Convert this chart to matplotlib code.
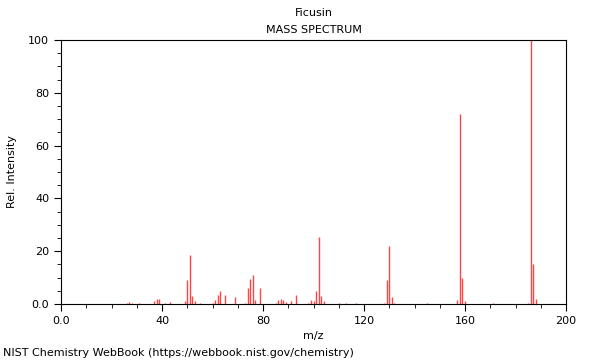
import matplotlib
matplotlib.use("Agg")
import matplotlib.pyplot as plt
from matplotlib.ticker import MultipleLocator, FixedLocator

mz = [26, 27, 28, 31, 37, 38, 39, 41, 43, 49, 50, 51, 52, 53, 55,
      60, 61, 62, 63, 65, 69, 73, 74, 75, 76, 77, 79,
      85, 86, 87, 88, 89, 91, 93, 98, 99, 100, 101, 102, 103, 104,
      110, 113, 117, 128, 129, 130, 131, 132, 145,
      157, 158, 159, 160, 171, 185, 186, 187, 188]
intensity = [0.5, 0.6, 0.5, 0.3, 1.0, 2.0, 1.8, 0.5, 0.8, 1.0, 9.0, 18.5, 3.0, 1.0, 0.4,
             0.3, 1.5, 3.5, 5.0, 3.5, 2.5, 0.5, 6.0, 9.5, 11.0, 1.5, 6.0,
             0.5, 1.5, 2.0, 1.5, 0.8, 1.0, 3.5, 0.5, 1.5, 1.0, 5.0, 25.5, 3.0, 1.0,
             0.3, 0.4, 0.3, 0.5, 9.0, 22.0, 2.5, 0.5, 0.3,
             1.5, 72.0, 10.0, 1.0, 0.3, 0.5, 100.0, 15.0, 2.0]

x_ticks = [0, 40, 80, 120, 160, 200]
x_labels = ["0.0", "40", "80", "120", "160", "200"]
y_ticks = [0, 20, 40, 60, 80, 100]
y_labels = ["0.0", "20", "40", "60", "80", "100"]

fig = plt.figure(figsize=(6, 3.6), dpi=100)
ax = fig.add_axes([61/600, 1-304/360, (566-61)/600, (304-40)/360])
ax.vlines(mz, 0, intensity, colors="#ff4444", linewidth=1.0)
ax.set_xlim(0, 200)
ax.set_ylim(0, 100)
ax.xaxis.set_major_locator(FixedLocator(x_ticks))
ax.set_xticklabels(x_labels)
ax.yaxis.set_major_locator(FixedLocator(y_ticks))
ax.set_yticklabels(y_labels)
ax.xaxis.set_minor_locator(MultipleLocator(10))
ax.yaxis.set_minor_locator(MultipleLocator(5))
ax.tick_params(axis="both", which="major", labelsize=8, length=5, direction="out")
ax.tick_params(axis="both", which="minor", length=3, direction="out")
for s in ax.spines.values():
    s.set_linewidth(0.8)
ax.set_xlabel("m/z", fontsize=8)
ax.set_ylabel("Rel. Intensity", fontsize=8)
ax.yaxis.set_label_coords(-44/505, 0.5)
fig.text(314/600, 1-13/360, "Ficusin", ha="center", va="center", fontsize=8)
fig.text(314/600, 1-30/360, "MASS SPECTRUM", ha="center", va="center", fontsize=8)
fig.text(3/600, 1-353/360, "NIST Chemistry WebBook (https://webbook.nist.gov/chemistry)",
         ha="left", va="center", fontsize=8)
fig.savefig("out.png", dpi=100)
